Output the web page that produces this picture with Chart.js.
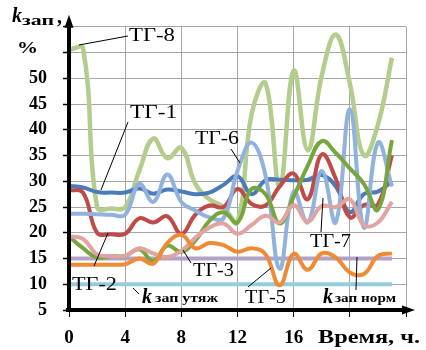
<!DOCTYPE html>
<html>
<head>
<meta charset="utf-8">
<script src="https://cdn.jsdelivr.net/npm/chart.js@4.4.1/dist/chart.umd.min.js"></script>
<style>
  html, body { margin: 0; padding: 0; background: #fff; }
  #wrap { width: 426px; height: 350px; }
</style>
</head>
<body>
<div id="wrap"><canvas id="chart" width="426" height="350"></canvas></div>
<script>
// Hours of the day (x values)
const hours = [0, 1, 2, 3, 4, 5, 6, 7, 8, 9, 10, 11, 12, 13, 14, 15, 16, 17, 18, 19, 20, 21, 22, 23];

// Reserve factor k_зап, % for each turbogenerator
const tg1 = [29.1, 28.8, 27.9, 27.8, 27.8, 28.6, 27.6, 28.4, 28.0, 27.5, 27.8, 29.3, 31.0, 27.5, 30.2, 30.3, 30.2, 30.3, 31.2, 29.0, 24.0, 27.5, 28.0, 30.0];
const tg2 = [28.3, 27.8, 20.0, 19.7, 19.8, 22.8, 22.0, 23.2, 19.8, 23.5, 25.3, 25.0, 28.5, 25.6, 25.3, 29.0, 31.5, 26.5, 35.2, 30.5, 23.0, 25.4, 25.5, 35.0];
const tg3 = [19.3, 17.0, 15.2, 15.5, 15.5, 16.8, 14.5, 17.5, 16.3, 18.5, 22.3, 24.0, 22.0, 28.5, 27.5, 21.8, 27.0, 33.0, 37.8, 35.5, 32.5, 29.5, 24.5, 38.0];
const tg5 = [13.8, 13.8, 13.8, 13.8, 13.9, 15.0, 14.0, 18.0, 19.6, 17.0, 18.0, 17.6, 16.3, 17.0, 15.8, 9.8, 15.9, 12.8, 16.0, 15.2, 12.3, 12.0, 15.5, 16.0];
const tg6 = [23.7, 23.7, 23.6, 23.5, 23.5, 29.5, 26.0, 31.3, 26.0, 24.3, 23.0, 22.8, 32.0, 37.5, 31.0, 13.0, 28.0, 22.0, 32.0, 22.0, 44.0, 21.0, 37.5, 29.0];
const tg7 = [19.3, 18.8, 15.8, 15.5, 15.5, 17.0, 16.0, 15.3, 16.5, 19.0, 21.0, 21.8, 19.8, 21.5, 23.3, 22.0, 25.4, 22.2, 25.2, 25.0, 26.5, 21.5, 22.0, 26.0];
const tg8 = [55.5, 55.8, 25.0, 24.7, 25.0, 32.0, 38.3, 34.5, 36.5, 29.5, 26.5, 25.0, 22.0, 43.0, 49.0, 29.0, 51.5, 36.0, 50.5, 58.5, 49.0, 35.0, 41.0, 54.0];

// Normative and heavy-condition reserve limits
const kNorm = [15, 15, 15, 15, 15, 15, 15, 15, 15, 15, 15, 15, 15, 15, 15, 15, 15, 15, 15, 15, 15, 15, 15, 15];
const kHeavy = [10, 10, 10, 10, 10, 10, 10, 10, 10, 10, 10, 10, 10, 10, 10, 10, 10, 10, 10, 10, 10, 10, 10, 10];

// Axis ticks
const yTickValues = [5, 10, 15, 20, 25, 30, 35, 40, 45, 50, 55, 60];
const yTickText = ['5', '10', '15', '20', '25', '30', '35', '40', '45', '50', '', ''];
const xTickValues = [0, 4, 8, 12, 16, 20, 24];
const xTickText = ['0', '4', '8', '12', '16', '', ''];

const toPoints = arr => hours.map((h, i) => ({ x: h, y: arr[i] }));

function series(data, color, order, width) {
  return {
    data: toPoints(data),
    borderColor: color,
    backgroundColor: color,
    borderWidth: width || 4,
    pointRadius: 0,
    fill: false,
    tension: 0.42,
    order: order
  };
}

const SERIF = '"Liberation Serif", "Times New Roman", serif';

// Draws a text fitted to a given width (left edge x, baseline y)
function fitText(ctx, text, font, x, y, width) {
  ctx.font = font;
  const w = ctx.measureText(text).width;
  ctx.save();
  ctx.translate(x, y);
  ctx.scale(width / w, 1);
  ctx.fillText(text, 0, 0);
  ctx.restore();
}

function leader(ctx, x1, y1, x2, y2) {
  ctx.beginPath();
  ctx.moveTo(x1, y1);
  ctx.lineTo(x2, y2);
  ctx.stroke();
}

const decorations = {
  id: 'decorations',
  afterDatasetsDraw(chart) {
    const ctx = chart.ctx;
    const { left, right, top, bottom } = chart.chartArea;
    ctx.save();
    ctx.fillStyle = '#000';
    ctx.strokeStyle = '#000';

    // Axes with arrows
    ctx.lineWidth = 4;
    ctx.lineCap = 'butt';
    leader(ctx, left, bottom + 2, left, top - 6);
    leader(ctx, left - 3, bottom, right + 4, bottom);
    ctx.beginPath();
    ctx.moveTo(left, top - 12);
    ctx.lineTo(left - 4.5, top + 1);
    ctx.lineTo(left + 4.5, top + 1);
    ctx.closePath();
    ctx.fill();
    ctx.beginPath();
    ctx.moveTo(right + 9, bottom);
    ctx.lineTo(right - 4, bottom - 4.5);
    ctx.lineTo(right - 4, bottom + 4.5);
    ctx.closePath();
    ctx.fill();

    // Leader lines
    ctx.lineWidth = 1;
    leader(ctx, 79, 45, 128, 36);    // ТГ-8
    leader(ctx, 128, 122, 101, 190); // ТГ-1
    leader(ctx, 231, 149, 240, 163); // ТГ-6
    leader(ctx, 94, 266, 108, 233);  // ТГ-2
    leader(ctx, 183, 250, 191, 263); // ТГ-3
    leader(ctx, 248, 287, 271, 268); // ТГ-5
    leader(ctx, 321, 232, 323, 198); // ТГ-7
    leader(ctx, 133, 288, 139, 294); // k зап утяж
    leader(ctx, 356, 290, 357, 257); // k зап норм

    // Series labels
    ctx.textBaseline = 'alphabetic';
    ctx.textAlign = 'left';
    const reg = '18px ' + SERIF;
    fitText(ctx, 'ТГ-8', reg, 129, 41, 46);
    fitText(ctx, 'ТГ-1', reg, 130, 118, 47);
    fitText(ctx, 'ТГ-6', reg, 195, 144, 44);
    fitText(ctx, 'ТГ-2', reg, 72, 290, 45);
    fitText(ctx, 'ТГ-3', reg, 193, 276, 41);
    fitText(ctx, 'ТГ-5', reg, 245, 303, 41);
    fitText(ctx, 'ТГ-7', reg, 310, 247, 41);

    // k limit labels
    fitText(ctx, 'k', 'italic bold 21px ' + SERIF, 142, 303, 10);
    fitText(ctx, 'зап утяж', 'bold 13px ' + SERIF, 155, 302, 63);
    fitText(ctx, 'k', 'italic bold 21px ' + SERIF, 323, 303, 10);
    fitText(ctx, 'зап норм', 'bold 13px ' + SERIF, 335, 302, 61);

    // Axis titles
    fitText(ctx, 'k', 'italic bold 21px ' + SERIF, 12, 22, 10);
    fitText(ctx, 'зап', 'bold 15px ' + SERIF, 22, 25, 32);
    fitText(ctx, ',', 'bold 20px ' + SERIF, 57, 23, 5);
    fitText(ctx, '%', 'bold 17px ' + SERIF, 17, 53, 21);
    fitText(ctx, 'Время, ч.', 'bold 18px ' + SERIF, 318, 343, 102);

    ctx.restore();
  }
};

new Chart(document.getElementById('chart'), {
  type: 'line',
  data: {
    datasets: [
      series(kHeavy, '#93cddd', 9),
      series(kNorm, '#b3a2c7', 8),
      series(tg8, '#b3cd8d', 7, 4.5),
      series(tg1, '#4a7cba', 6),
      series(tg2, '#bf4b48', 5),
      series(tg6, '#91b2dc', 4),
      series(tg3, '#78a63e', 3),
      series(tg7, '#e2a4a3', 2),
      series(tg5, '#ef8b35', 1)
    ]
  },
  options: {
    responsive: false,
    animation: false,
    events: [],
    layout: { padding: { top: 22, right: 20, left: 0, bottom: 0 } },
    plugins: { legend: { display: false }, tooltip: { enabled: false } },
    scales: {
      x: {
        type: 'linear',
        min: 0,
        max: 24,
        afterFit(scale) { scale.height = 40; },
        afterBuildTicks(scale) { scale.ticks = xTickValues.map(v => ({ value: v })); },
        ticks: {
          autoSkip: false,
          maxRotation: 0,
          color: '#000',
          padding: 10,
          font: { family: SERIF, weight: 'bold', size: 19 },
          callback: (v) => xTickText[xTickValues.indexOf(v)]
        },
        grid: { color: '#a6a6a6', lineWidth: 1, tickLength: 7, tickColor: '#000', tickWidth: 1 },
        border: { display: false }
      },
      y: {
        min: 5,
        max: 60,
        afterFit(scale) { scale.width = 69; },
        afterBuildTicks(scale) { scale.ticks = yTickValues.map(v => ({ value: v })); },
        ticks: {
          autoSkip: false,
          color: '#000',
          padding: 16,
          font: { family: SERIF, weight: 'bold', size: 18 },
          callback: (v) => yTickText[yTickValues.indexOf(v)]
        },
        grid: { color: '#a6a6a6', lineWidth: 1, tickLength: 6, tickColor: '#000', tickWidth: 1.5 },
        border: { display: false }
      }
    }
  },
  plugins: [decorations]
});
</script>
</body>
</html>
